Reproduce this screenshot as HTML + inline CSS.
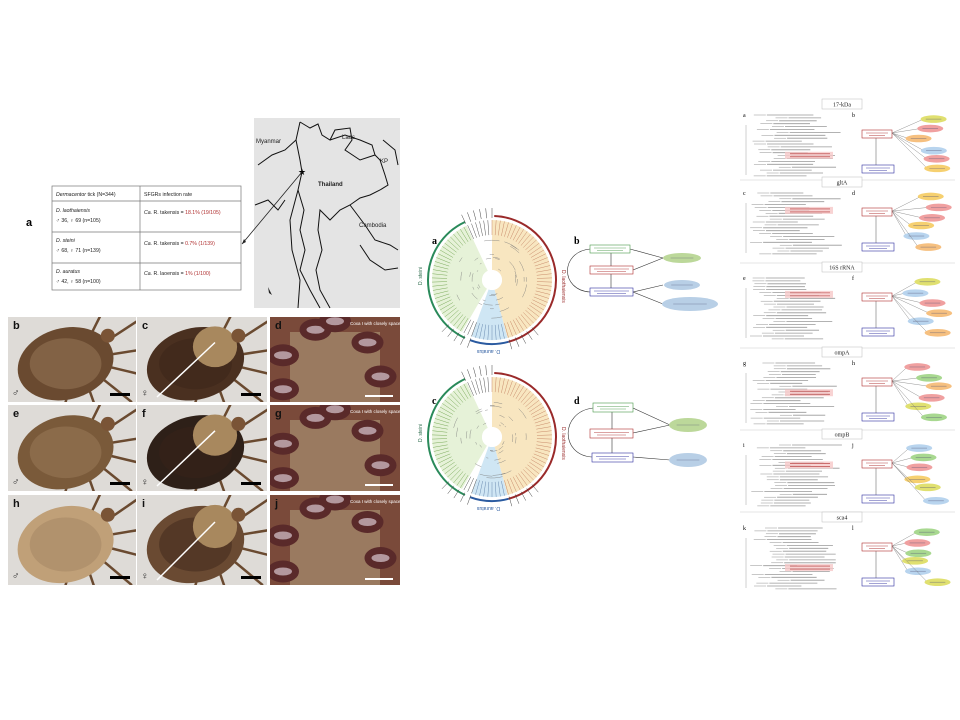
<!DOCTYPE html>
<html><head><meta charset="utf-8"><style>
html,body{margin:0;padding:0;background:#fff;}
svg{display:block;font-family:"Liberation Sans",sans-serif;}
</style></head><body>
<svg id="s" width="960" height="720" viewBox="0 0 960 720" xmlns="http://www.w3.org/2000/svg">
<defs id="defs"></defs>
<rect width="960" height="720" fill="#fff"/>
<!-- map -->
<rect x="254" y="118" width="146" height="190" fill="#e4e4e4"/>
<g fill="none" stroke="#111" stroke-width="1">
<path d="M300 122 L310 128 L318 124 L322 135 L330 140 L335 130 L350 128 L352 140 L345 150 L360 160 L375 155 L380 160 L385 175 L388 185 L380 190 L370 195 L360 198 L350 205 L340 210 L330 220 L320 210 L318 230 L322 250 L316 270 L320 290 L330 308"/>
<path d="M300 122 L296 140 L300 160 L302 172 L298 190 L304 210 L300 230 L305 250 L300 270 L310 290 L320 308"/>
<path d="M296 140 L285 150 L272 155 L258 165"/>
<path d="M298 190 L290 220 L292 250 L300 280 L298 308"/>
<path d="M330 140 L345 135 L360 140 L372 145 L375 155"/>
<path d="M350 205 L365 225 L375 240 L390 245 L398 250"/>
<path d="M383 140 L395 150 L398 165"/>
<path d="M360 245 L370 260 L385 270 L398 268"/>
<path d="M255 205 L268 200 L278 210 L285 200"/>
</g>
<g font-size="6" fill="#222"><text x="256" y="143">Myanmar</text><text x="342" y="139">Laos</text><text x="318" y="186" font-weight="bold">Thailand</text><text x="359" y="227">Cambodia</text><text x="380" y="163">KP</text></g>
<text x="298" y="175" font-size="9">★</text>
<path d="M268 287 L272 295 L269 293 Z" fill="#222"/>
<line x1="302" y1="172" x2="242" y2="244" stroke="#222" stroke-width="0.8"/>
<path d="M242 244 L244 239 L246 242 Z" fill="#222"/>
<!-- table -->
<g stroke="#777" stroke-width="0.7" fill="none">
<rect x="52" y="186" width="189" height="104" fill="#fff"/>
<line x1="140" y1="186" x2="140" y2="290"/>
<line x1="52" y1="201" x2="241" y2="201"/><line x1="52" y1="232" x2="241" y2="232"/><line x1="52" y1="263" x2="241" y2="263"/>
</g>
<g font-size="5.2" fill="#222">
<text x="56" y="196" font-style="italic">Dermacentor <tspan font-style="normal">tick (N=344)</tspan></text>
<text x="144" y="196">SFGRs infection rate</text>
<text x="56" y="212" font-style="italic">D. laothaiensis</text><text x="56" y="222">♂ 36, ♀ 69  (n=105)</text>
<text x="144" y="214"><tspan font-style="italic">Ca.</tspan> R. takensis = <tspan fill="#b03030">18.1% (19/105)</tspan></text>
<text x="56" y="242" font-style="italic">D. steini</text><text x="56" y="252">♂ 68, ♀ 71 (n=139)</text>
<text x="144" y="245"><tspan font-style="italic">Ca.</tspan> R. takensis = <tspan fill="#b03030">0.7% (1/139)</tspan></text>
<text x="56" y="273" font-style="italic">D. auratus</text><text x="56" y="283">♂ 42, ♀ 58 (n=100)</text>
<text x="144" y="275"><tspan font-style="italic">Ca.</tspan> R. laoensis = <tspan fill="#b03030">1% (1/100)</tspan></text>
</g>
<text x="26" y="226" font-size="11" font-weight="bold">a</text>
<g id="ticks"></g>
<g id="mid"></g>
<g id="right"></g>
</svg>
<script>
var NS="http://www.w3.org/2000/svg";
function el(p,t,a,txt){var e=document.createElementNS(NS,t);for(var k in a)e.setAttribute(k,a[k]);if(txt)e.textContent=txt;p.appendChild(e);return e;}
var seed=7;function rnd(){seed=(seed*9301+49297)%233280;return seed/233280;}
var D=document.getElementById('defs');
var T0=document.getElementById('ticks');
var cols=[8,137,270],rows=[317,405,495],W=[128,130,130],H=[85,86,90];
var lab=[["b","c","d"],["e","f","g"],["h","i","j"]];
var body=[["#6a4a30","#4a3020"],["#7a5a3a","#2e2018"],["#c0a078","#6a4a32"]];
for(var r=0;r<3;r++)for(var c=0;c<3;c++){
 var x=cols[c],y=rows[r],w=W[c],h=H[r];
 var cp=el(D,'clipPath',{id:"c"+r+c});el(cp,'rect',{x:x,y:y,width:w,height:h});
 var T=el(T0,'g',{"clip-path":"url(#c"+r+c+")"});
 if(c<2){
  el(T,'rect',{x:x,y:y,width:w,height:h,fill:"#dedbd7"});
  for(var l=0;l<7;l++){var a=-1.2+l*0.5;el(T,'line',{x1:x+w*0.55,y1:y+h*0.5,x2:x+w*0.55+Math.cos(a)*w*0.6,y2:y+h*0.5+Math.sin(a)*h*0.7,stroke:"#6a4a30","stroke-width":2.5});}
  el(T,'ellipse',{cx:x+w*0.45,cy:y+h*0.55,rx:w*0.38,ry:h*0.42,fill:body[r][c],transform:"rotate(-15 "+(x+w*0.45)+" "+(y+h*0.55)+")"});
  el(T,'ellipse',{cx:x+w*0.45,cy:y+h*0.55,rx:w*0.28,ry:h*0.3,fill:c==0?"#a08060":"#3a2418",opacity:0.45});
  if(c==1)el(T,'ellipse',{cx:x+w*0.6,cy:y+h*0.35,rx:w*0.17,ry:h*0.24,fill:"#a8885e"});
  el(T,'circle',{cx:x+w*0.78,cy:y+h*0.22,r:7,fill:"#7a5436"});
  el(T,'rect',{x:x+w-26,y:y+h-9,width:20,height:3,fill:"#000"});
  el(T,'text',{x:x+4,y:y+h-6,"font-size":10,fill:"#222"},c==0?"♂":"♀");
  if(c==1){el(T,'line',{x1:x+w*0.6,y1:y+h*0.3,x2:x+20,y2:y+h-5,stroke:"#fff","stroke-width":1.5});}
 } else {
  el(T,'rect',{x:x,y:y,width:w,height:h,fill:"#7a4a3a"});
  el(T,'rect',{x:x+20,y:y+15,width:w-40,height:h-15,fill:"#9a7a60"});
  [[0.35,0.15],[0.75,0.3],[0.1,0.45],[0.85,0.7],[0.1,0.85],[0.5,0.05]].forEach(function(p){el(T,'ellipse',{cx:x+w*p[0],cy:y+h*p[1],rx:16,ry:11,fill:"#5a2a2a"});el(T,'ellipse',{cx:x+w*p[0],cy:y+h*p[1],rx:9,ry:4,fill:"#d8c8d0",opacity:0.7});});
  el(T,'rect',{x:x+w-35,y:y+h-7,width:28,height:2,fill:"#fff"});
  el(T,'text',{x:x+80,y:y+8,"font-size":4.5,fill:"#fff"},"Coxa I with closely spaced");
 }
 el(T,'text',{x:x+5,y:y+12,"font-size":11,"font-weight":"bold",fill:"#111"},lab[r][c]);
}
var M=document.getElementById('mid');
function arc(cx,cy,r,a0,a1){var p=function(a){a=(a-90)*Math.PI/180;return [cx+r*Math.cos(a),cy+r*Math.sin(a)];};var s=p(a0),e=p(a1);return "M"+s[0]+" "+s[1]+" A"+r+" "+r+" 0 "+((a1-a0)>180?1:0)+" 1 "+e[0]+" "+e[1];}
function sector(cx,cy,r0,r,a0,a1,f){var p=function(a,rr){a=(a-90)*Math.PI/180;return [cx+rr*Math.cos(a),cy+rr*Math.sin(a)];};var s=p(a0,r),e=p(a1,r),s2=p(a1,r0),e2=p(a0,r0);el(M,'path',{d:"M"+s+" A"+r+" "+r+" 0 "+((a1-a0)>180?1:0)+" 1 "+e+" L"+s2+" A"+r0+" "+r0+" 0 "+((a1-a0)>180?1:0)+" 0 "+e2+"Z",fill:f});}
function tree(cx,cy){
 sector(cx,cy,10,60,0,165,"#f8e6c0");
 sector(cx,cy,10,60,165,200,"#cfe6f4");
 sector(cx,cy,10,60,210,335,"#e6f2d8");
 for(var a=0;a<360;a+=4){var ra=(a-90)*Math.PI/180;var c=a<165?"#c88a6a":(a<200?"#6a8ab0":(a>210&&a<335?"#7aaa5a":"#555"));el(M,'line',{x1:cx+45*Math.cos(ra),y1:cy+45*Math.sin(ra),x2:cx+60*Math.cos(ra),y2:cy+60*Math.sin(ra),stroke:c,"stroke-width":0.5});}
 for(var i=0;i<40;i++){var a=rnd()*360,r1=12+rnd()*30;el(M,'path',{d:arc(cx,cy,r1,a,a+5+rnd()*20),fill:"none",stroke:"#777","stroke-width":0.4});}
 el(M,'circle',{cx:cx,cy:cy,r:10,fill:"#fff"});
 el(M,'path',{d:arc(cx,cy,64,2,165),fill:"none",stroke:"#9a2a2a","stroke-width":2});
 el(M,'path',{d:arc(cx,cy,64,165,200),fill:"none",stroke:"#2a5aa0","stroke-width":2});
 el(M,'path',{d:arc(cx,cy,64,205,335),fill:"none",stroke:"#2a8a5a","stroke-width":2});
 for(var a=335;a<365;a+=5){var ra=(a-90)*Math.PI/180;el(M,'line',{x1:cx+62*Math.cos(ra),y1:cy+62*Math.sin(ra),x2:cx+72*Math.cos(ra),y2:cy+72*Math.sin(ra),stroke:"#444","stroke-width":0.5});}
 for(var a=140;a<230;a+=6){if(a>165&&a<200)continue;var ra=(a-90)*Math.PI/180;el(M,'line',{x1:cx+62*Math.cos(ra),y1:cy+62*Math.sin(ra),x2:cx+72*Math.cos(ra),y2:cy+72*Math.sin(ra),stroke:"#444","stroke-width":0.5});}
 el(M,'text',{x:cx+70,y:cy-10,"font-size":5,fill:"#9a2a2a",transform:"rotate(90 "+(cx+70)+" "+(cy-10)+")"},"D. laothaiensis");
 el(M,'text',{x:cx-70,y:cy+5,"font-size":5,fill:"#2a6a4a",transform:"rotate(-90 "+(cx-70)+" "+(cy+5)+")"},"D. steini");
 el(M,'text',{x:cx+8,y:cy+70,"font-size":5,fill:"#2a5aa0",transform:"rotate(180 "+(cx+8)+" "+(cy+70)+")"},"D. auratus");
}
tree(492,280);tree(492,437);
function box(p,x,y,w,h,c,fill){el(p,'rect',{x:x,y:y,width:w,height:h,fill:fill||"#fff",stroke:c,"stroke-width":0.6});el(p,'line',{x1:x+4,y1:y+h/2-1,x2:x+w-4,y2:y+h/2-1,stroke:c,"stroke-width":0.8,opacity:0.6});el(p,'line',{x1:x+7,y1:y+h/2+1.5,x2:x+w-7,y2:y+h/2+1.5,stroke:c,"stroke-width":0.8,opacity:0.6});}
function ell(p,cx,cy,rx,ry,f){el(p,'ellipse',{cx:cx,cy:cy,rx:rx,ry:ry,fill:f});el(p,'line',{x1:cx-rx*0.6,y1:cy,x2:cx+rx*0.6,y2:cy,stroke:"#557","stroke-width":0.6,opacity:0.6});}
var L="#333";
el(M,'path',{d:"M590 249 C560 252 560 290 590 292",fill:"none",stroke:L,"stroke-width":0.6});
el(M,'line',{x1:611,y1:253,x2:611,y2:288,stroke:L,"stroke-width":0.6});
[[630,249,663,258],[633,270,663,258],[633,292,663,285],[633,292,663,304]].forEach(function(q){el(M,'line',{x1:q[0],y1:q[1],x2:q[2],y2:q[3],stroke:L,"stroke-width":0.6});});
box(M,590,245,40,8,"#4a9a4a");box(M,590,266,43,8,"#b03030");box(M,590,288,43,8,"#3030a0");
ell(M,682,258,19,5,"#bcd89a");ell(M,682,285,18,5,"#b8cfe6");ell(M,690,304,28,7,"#b8cfe6");
el(M,'path',{d:"M593 408 C560 412 560 455 592 457",fill:"none",stroke:L,"stroke-width":0.6});
el(M,'line',{x1:612,y1:412,x2:612,y2:453,stroke:L,"stroke-width":0.6});
[[633,408,670,425],[633,433,670,425],[633,457,670,460]].forEach(function(q){el(M,'line',{x1:q[0],y1:q[1],x2:q[2],y2:q[3],stroke:L,"stroke-width":0.6});});
box(M,593,403,40,9,"#4a9a4a");box(M,590,429,43,9,"#b03030");box(M,592,453,41,9,"#3030a0");
ell(M,688,425,19,7,"#bcd89a");ell(M,688,460,19,7,"#b8cfe6");
[["a",432,244],["b",574,244],["c",432,404],["d",574,404]].forEach(function(t){el(M,'text',{x:t[1],y:t[2],"font-size":10,"font-weight":"bold","font-family":"Liberation Serif"},t[0]);});
var R=document.getElementById('right');
var heads=[["17-kDa",105],["gltA",183],["16S rRNA",268],["ompA",353],["ompB",435],["sca4",518]];
var seps=[180,263,348,430,512];
seps.forEach(function(y){el(R,'line',{x1:740,y1:y,x2:955,y2:y,stroke:"#ccc","stroke-width":0.6});});
var letters="abcdefghijkl";
var ells=["#f0a0a0","#f6d070","#b8d4ee","#e0e070","#a8d890","#f6c080"];
heads.forEach(function(h,i){
 var y0=h[1];
 el(R,'rect',{x:822,y:y0-6,width:40,height:10,fill:"#fff",stroke:"#bbb","stroke-width":0.5});
 el(R,'text',{x:842,y:y0+1.5,"font-size":6,"font-family":"Liberation Serif","text-anchor":"middle",fill:"#222"},h[0]);
 el(R,'text',{x:743,y:y0+12,"font-size":6,"font-family":"Liberation Serif"},letters[2*i]);
 el(R,'text',{x:852,y:y0+12,"font-size":6,"font-family":"Liberation Serif"},letters[2*i+1]);
 var n=22;
 for(var k=0;k<n;k++){var yy=y0+10+k*2.9;var x1=750+rnd()*30;el(R,'line',{x1:x1,y1:yy,x2:x1+12,y2:yy,stroke:"#777","stroke-width":0.4});el(R,'line',{x1:x1+13,y1:yy,x2:x1+45+rnd()*20,y2:yy,stroke:"#999","stroke-width":0.8});}
 el(R,'line',{x1:746,y1:y0+20,x2:746,y2:y0+70,stroke:"#888","stroke-width":0.4});
 var hy=y0+22+rnd()*30;el(R,'rect',{x:785,y:hy,width:48,height:7,fill:"#f6c8c8",opacity:0.8});
 el(R,'line',{x1:790,y1:hy+2,x2:830,y2:hy+2,stroke:"#b03030","stroke-width":0.6});el(R,'line',{x1:790,y1:hy+5,x2:830,y2:hy+5,stroke:"#b03030","stroke-width":0.6});
 var bx=862,rb=y0+25,bb=y0+60;
 el(R,'line',{x1:876,y1:rb+7,x2:876,y2:bb,stroke:"#555","stroke-width":0.5});
 for(var e=0;e<6;e++){var ex=915+rnd()*25,ey=y0+12+e*10+rnd()*4;el(R,'line',{x1:bx+30,y1:rb+3,x2:ex-10,y2:ey,stroke:"#777","stroke-width":0.4});ell(R,ex,ey,13,3.8,ells[Math.floor(rnd()*6)]);}
 box(R,bx,rb,30,8,"#b03030");box(R,bx,bb,32,8,"#3030a0");
});
</script>
</body></html>
